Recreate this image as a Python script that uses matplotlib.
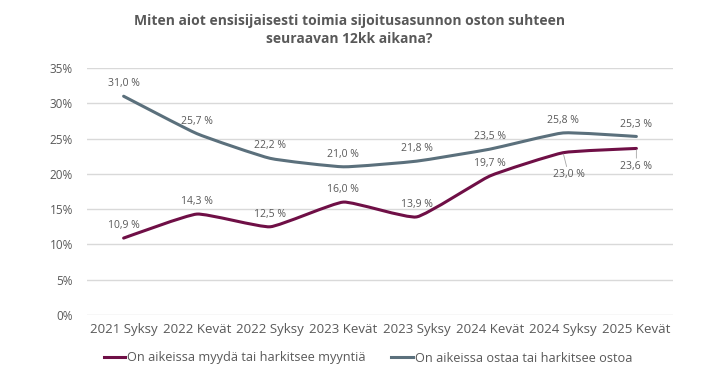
import numpy as np
import matplotlib.pyplot as plt
from matplotlib.path import Path
from matplotlib.patches import PathPatch

periods = ['2021 Syksy', '2022 Kevät', '2022 Syksy', '2023 Kevät',
           '2023 Syksy', '2024 Kevät', '2024 Syksy', '2025 Kevät']
sell = [10.9, 14.3, 12.5, 16.0, 13.9, 19.7, 23.0, 23.6]
buy = [31.0, 25.7, 22.2, 21.0, 21.8, 23.5, 25.8, 25.3]
sell_label = 'On aikeissa myydä tai harkitsee myyntiä'
buy_label = 'On aikeissa ostaa tai harkitsee ostoa'
title = 'Miten aiot ensisijaisesti toimia sijoitusasunnon oston suhteen\nseuraavan 12kk aikana?'

SELL_COLOR = '#6f0f46'
BUY_COLOR = '#5b707c'
TEXT = '#595959'


def smooth_path(xs, ys, k=0.07):
    # lightly smoothed line (bezier segments through the points)
    xs = np.asarray(xs, float)
    ys = np.asarray(ys, float)
    n = len(xs)
    verts = [(xs[0], ys[0])]
    codes = [Path.MOVETO]
    for i in range(n - 1):
        p0 = (xs[max(i - 1, 0)], ys[max(i - 1, 0)])
        p1 = (xs[i], ys[i])
        p2 = (xs[i + 1], ys[i + 1])
        p3 = (xs[min(i + 2, n - 1)], ys[min(i + 2, n - 1)])
        c1 = (p1[0] + (p2[0] - p0[0]) * k, p1[1] + (p2[1] - p0[1]) * k)
        c2 = (p2[0] - (p3[0] - p1[0]) * k, p2[1] - (p3[1] - p1[1]) * k)
        verts += [c1, c2, p2]
        codes += [Path.CURVE4] * 3
    return Path(verts, codes)


def fmt(v):
    return '{:.1f} %'.format(v).replace('.', ',')


plt.rcParams['font.family'] = ['Open Sans', 'DejaVu Sans']

fig = plt.figure(figsize=(7.2, 3.77), dpi=100)
ax = fig.add_axes([87 / 720, 1 - 315 / 377, 586 / 720, 247 / 377])

x = np.arange(len(periods))
for ys, col, lab in [(sell, SELL_COLOR, sell_label), (buy, BUY_COLOR, buy_label)]:
    ax.add_patch(PathPatch(smooth_path(x, ys), facecolor='none', edgecolor=col,
                           lw=2.2, capstyle='round', joinstyle='round'))
    ax.plot([], [], color=col, lw=2.2, label=lab)

for i, v in enumerate(buy):
    ax.annotate(fmt(v), (i, v), xytext=(0, 5), textcoords='offset points',
                ha='center', va='bottom', fontsize=7.5, color=TEXT)

for i, v in enumerate(sell):
    if i >= 6:
        ax.annotate(fmt(v), (i, v), xytext=(4 if i == 6 else 0, -12 if i == 6 else -9),
                    textcoords='offset points', ha='center', va='top',
                    fontsize=7.5, color=TEXT,
                    arrowprops=dict(arrowstyle='-', color='#a6a6a6', lw=0.6,
                                    shrinkA=0, shrinkB=1))
    else:
        ax.annotate(fmt(v), (i, v), xytext=(0, 5), textcoords='offset points',
                    ha='center', va='bottom', fontsize=7.5, color=TEXT)

ax.set_xlim(-0.5, len(periods) - 0.5)
ax.set_ylim(0, 35)
ax.set_yticks(range(0, 36, 5))
ax.set_yticklabels(['{}%'.format(t) for t in range(0, 36, 5)])
ax.set_xticks(x)
ax.set_xticklabels(periods)
ax.tick_params(axis='y', length=0, pad=10, labelsize=8.5, labelcolor=TEXT)
ax.tick_params(axis='x', length=0, pad=6, labelsize=9.5, labelcolor=TEXT)
ax.grid(axis='y', color='#d9d9d9', lw=1)
ax.set_axisbelow(True)
for s in ax.spines.values():
    s.set_visible(False)

fig.text(349 / 720, 1 - 30 / 377, title, ha='center', va='center', fontsize=10,
         fontweight='bold', color=TEXT, linespacing=1.35)

leg = fig.legend(loc='center', bbox_to_anchor=(368 / 720, 1 - 358 / 377), ncol=2,
                 frameon=False, fontsize=9.2, handlelength=1.7, handletextpad=0.15,
                 columnspacing=2.0)
for t in leg.get_texts():
    t.set_color(TEXT)

fig.savefig('out.png', dpi=100)
